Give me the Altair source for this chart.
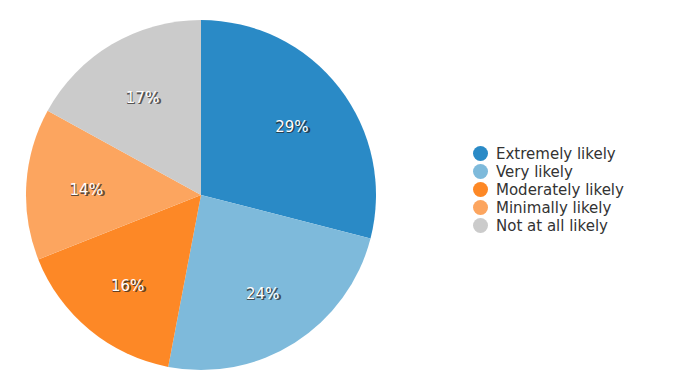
import altair as alt
import pandas as pd

categories = ["Extremely likely", "Very likely", "Moderately likely", "Minimally likely", "Not at all likely"]
values = [29, 24, 16, 14, 17]
colors = ["#2a8ac6", "#7ebadb", "#fd8826", "#fca55f", "#cbcbcb"]

df = pd.DataFrame({
    "category": categories,
    "value": values,
    "idx": list(range(len(categories))),
    "label": [f"{v}%" for v in values],
})

cx, cy = 193, 187
R = 175
LR = 115

base = alt.Chart(df).encode(
    theta=alt.Theta("value:Q", stack=True),
    order=alt.Order("idx:Q"),
)

arcs = base.mark_arc(outerRadius=R, strokeWidth=0).encode(
    x=alt.value(cx), y=alt.value(cy),
    color=alt.Color("category:N",
                    scale=alt.Scale(domain=categories, range=colors),
                    sort=categories,
                    legend=alt.Legend(title=None, orient="none", legendX=465, legendY=138,
                                      symbolType="circle", symbolSize=225, symbolStrokeWidth=0,
                                      labelFont="DejaVu Sans", labelFontSize=15, labelColor="#333333",
                                      rowPadding=2, labelOffset=8)),
)

shadow = base.mark_text(radius=LR, font="DejaVu Sans", fontSize=15, fontWeight=600,
                        color="#222222", opacity=0.7, dx=1, dy=3).encode(
    x=alt.value(cx), y=alt.value(cy), text="label:N")
labels = base.mark_text(radius=LR, font="DejaVu Sans", fontSize=15,
                        color="white", dy=2).encode(
    x=alt.value(cx), y=alt.value(cy), text="label:N")

chart = alt.layer(arcs, shadow, labels).properties(
    width=659, height=374, autosize="none", padding=0
).configure_view(stroke=None)

chart.save("out.html", embed_options={"renderer": "svg", "actions": False})
